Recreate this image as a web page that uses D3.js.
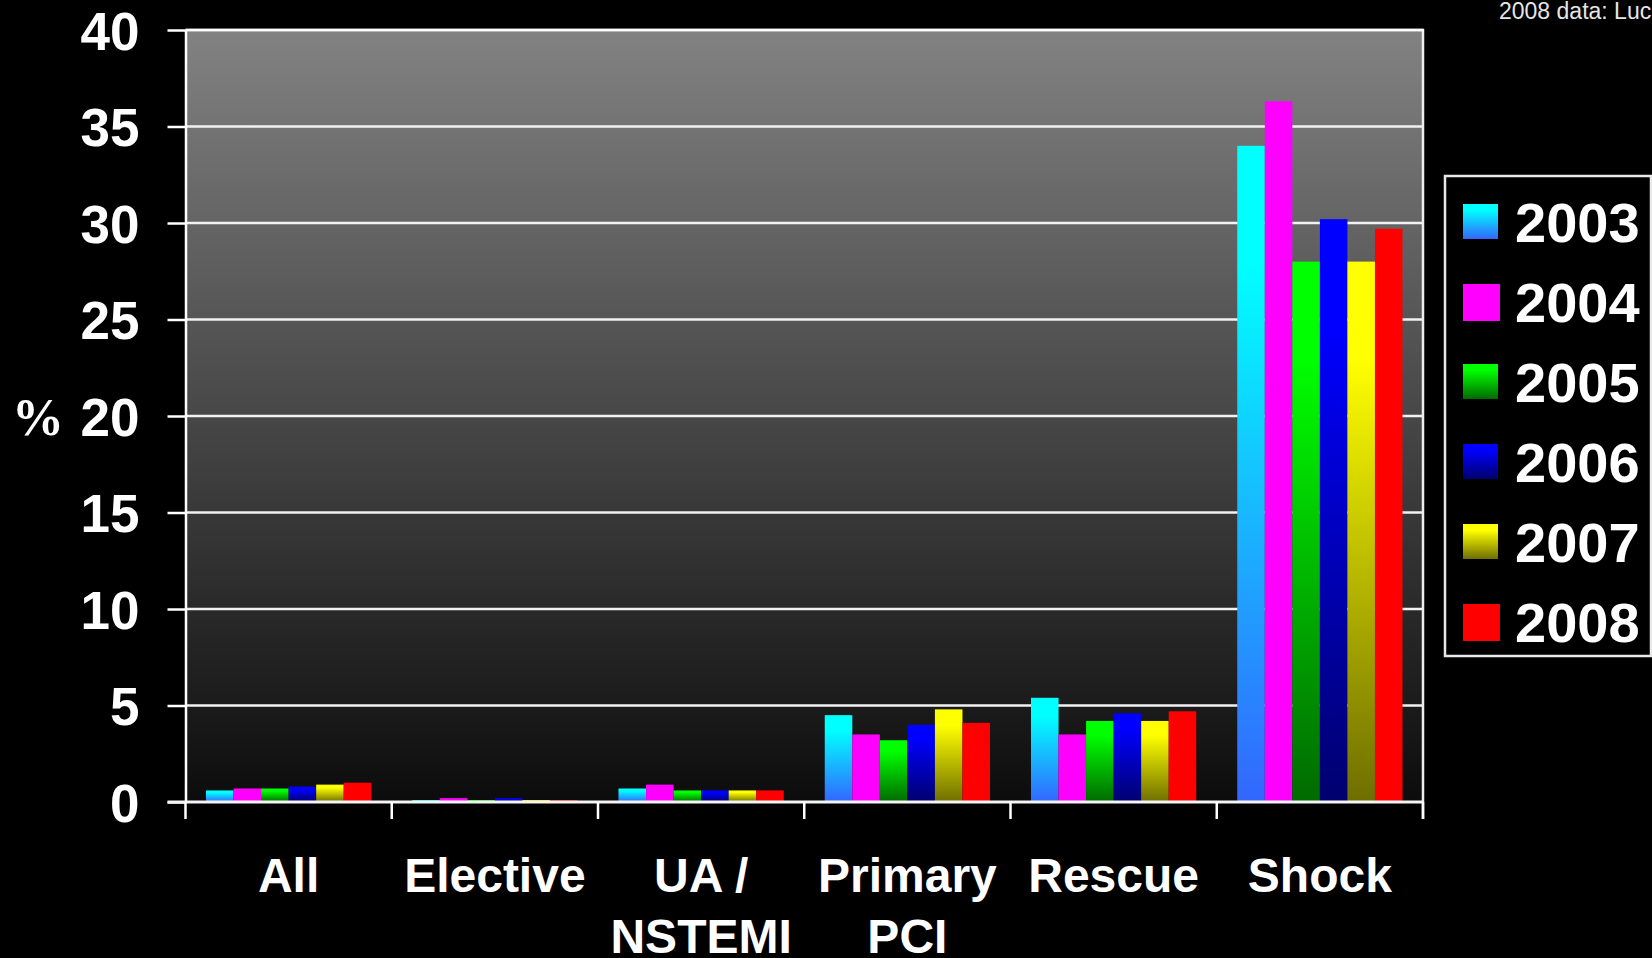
<!DOCTYPE html>
<html>
<head>
<meta charset="utf-8">
<script src="https://cdn.jsdelivr.net/npm/d3@7"></script>
<style>
html,body{margin:0;padding:0;background:#000;overflow:hidden;}
svg{display:block;}
</style>
</head>
<body>
<svg id="chart" width="1652" height="958"></svg>
<script>
const categories = ["All", "Elective", "UA / NSTEMI", "Primary PCI", "Rescue", "Shock"];
const categoryLines = [["All"], ["Elective"], ["UA /", "NSTEMI"], ["Primary", "PCI"], ["Rescue"], ["Shock"]];
const years = ["2003", "2004", "2005", "2006", "2007", "2008"];
const v2003 = [0.6, 0.1, 0.7, 4.5, 5.4, 34.0];
const v2004 = [0.7, 0.2, 0.9, 3.5, 3.5, 36.3];
const v2005 = [0.7, 0.1, 0.6, 3.2, 4.2, 28.0];
const v2006 = [0.8, 0.2, 0.6, 4.0, 4.6, 30.2];
const v2007 = [0.9, 0.1, 0.6, 4.8, 4.2, 28.0];
const v2008 = [1.0, 0.1, 0.6, 4.1, 4.7, 29.7];
const yTicks = [0, 5, 10, 15, 20, 25, 30, 35, 40];
const yAxisTitle = "%";
const note = "2008 data: Luc";

const series = [v2003, v2004, v2005, v2006, v2007, v2008];
const topColors = ["#00ffff", "#ff00ff", "#00ff00", "#0000ff", "#ffff00", "#ff0000"];
const botColors = ["#3366ff", "#ff00ff", "#006a00", "#00006e", "#6e6e00", "#ff0000"];

const svg = d3.select("#chart");
const L = 185.5, R = 1423, T = 30, B = 802;
const FONT = "'Liberation Sans', Arial, sans-serif";

const defs = svg.append("defs");
const bg = defs.append("linearGradient").attr("id", "bg").attr("x1", 0).attr("y1", 0).attr("x2", 0).attr("y2", 1);
bg.append("stop").attr("offset", 0).attr("stop-color", "#828282");
bg.append("stop").attr("offset", 1).attr("stop-color", "#0c0c0c");
years.forEach((y, i) => {
  const g = defs.append("linearGradient").attr("id", "g" + i).attr("x1", 0).attr("y1", 0).attr("x2", 0).attr("y2", 1);
  g.append("stop").attr("offset", 0).attr("stop-color", topColors[i]);
  g.append("stop").attr("offset", 0.18).attr("stop-color", topColors[i]);
  g.append("stop").attr("offset", 1).attr("stop-color", botColors[i]);
});

const x0 = d3.scaleBand().domain(categories).range([L, R]).padding(0);
const x1 = d3.scaleBand().domain(years).range([20.5, x0.bandwidth() - 20.5]).padding(0);
const y = d3.scaleLinear().domain([0, 40]).range([B, T]);

// plot background
svg.append("rect").attr("x", L).attr("y", T).attr("width", R - L).attr("height", B - T).attr("fill", "url(#bg)");

// gridlines
svg.append("g").selectAll("line").data(yTicks.filter(d => d > 0)).join("line")
  .attr("x1", L).attr("x2", R).attr("y1", d => y(d)).attr("y2", d => y(d))
  .attr("stroke", "#f2f2f2").attr("stroke-width", 2.5);

// bars
const groups = svg.append("g").selectAll("g").data(categories).join("g")
  .attr("transform", d => `translate(${x0(d)},0)`);
groups.selectAll("rect").data((c, ci) => years.map((yr, si) => ({yr, si, v: series[si][ci]}))).join("rect")
  .attr("x", d => x1(d.yr)).attr("width", x1.bandwidth())
  .attr("y", d => y(d.v)).attr("height", d => y(0) - y(d.v))
  .attr("fill", d => `url(#g${d.si})`);

// y axis
const yAxis = d3.axisLeft(y).tickValues(yTicks).tickSize(18).tickSizeOuter(0).tickPadding(28);
const ya = svg.append("g").attr("transform", `translate(${L},0)`).call(yAxis);
ya.select(".domain").attr("stroke", "#fff").attr("stroke-width", 2.5);
ya.selectAll(".tick line").attr("stroke", "#fff").attr("stroke-width", 2.5);
ya.selectAll(".tick text").attr("fill", "#fff").attr("font-family", FONT).attr("font-weight", "bold")
  .attr("font-size", 53).attr("dy", "0.36em");

// baseline and right edge
svg.append("line").attr("x1", L - 18).attr("x2", R + 1).attr("y1", y(0)).attr("y2", y(0)).attr("stroke", "#f4f4f4").attr("stroke-width", 2.8);
svg.append("line").attr("x1", R).attr("x2", R).attr("y1", T - 1).attr("y2", B + 17).attr("stroke", "#eee").attr("stroke-width", 2.5);
svg.append("line").attr("x1", L).attr("x2", R + 1).attr("y1", T).attr("y2", T).attr("stroke", "#fff").attr("stroke-width", 2.5);

// x ticks at band edges
const edges = categories.map(c => x0(c)).concat([R]);
svg.append("g").selectAll("line").data(edges).join("line")
  .attr("x1", d => d).attr("x2", d => d).attr("y1", B).attr("y2", B + 17)
  .attr("stroke", "#fff").attr("stroke-width", 2.5);

// category labels
const labs = svg.append("g").selectAll("text").data(categories).join("text")
  .attr("x", d => x0(d) + x0.bandwidth() / 2).attr("y", 892)
  .attr("text-anchor", "middle").attr("fill", "#fff")
  .attr("font-family", FONT).attr("font-weight", "bold").attr("font-size", 48);
labs.each(function(d, i) {
  const t = d3.select(this);
  categoryLines[i].forEach((ln, k) => {
    t.append("tspan").attr("x", x0(d) + x0.bandwidth() / 2).attr("dy", k === 0 ? 0 : 61).text(ln);
  });
});

// y axis title
svg.append("text").attr("x", 12).attr("y", 435).attr("fill", "#fff")
  .attr("font-family", "'Liberation Serif', 'Times New Roman', serif").attr("font-weight", "bold")
  .attr("font-size", 52).text(yAxisTitle);

// legend
const lg = svg.append("g");
lg.append("rect").attr("x", 1445).attr("y", 176).attr("width", 206).attr("height", 480)
  .attr("fill", "#000").attr("stroke", "#e8e8e8").attr("stroke-width", 2.5);
const items = lg.selectAll("g.item").data(years).join("g").attr("class", "item")
  .attr("transform", (d, i) => `translate(1463,${204 + i * 80})`);
items.append("rect").attr("width", (d, i) => (i === 1 || i === 5) ? 37 : 35).attr("height", (d, i) => (i === 1 || i === 5) ? 37 : 35)
  .attr("fill", (d, i) => `url(#g${i})`);
items.append("text").attr("x", 52).attr("y", 38).attr("fill", "#fff")
  .attr("font-family", FONT).attr("font-weight", "bold").attr("font-size", 56).text(d => d);

// note
svg.append("text").attr("x", 1499).attr("y", 19).attr("fill", "#e6e6e6")
  .attr("font-family", FONT).attr("font-size", 23).text(note);
</script>
</body>
</html>
